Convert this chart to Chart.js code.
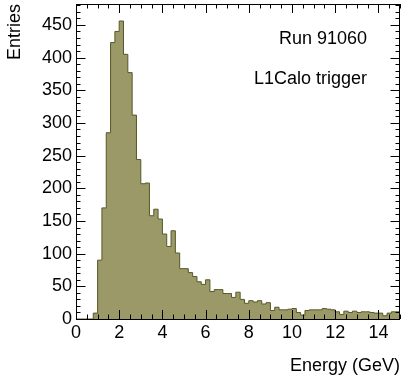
<!DOCTYPE html>
<html>
<head>
<meta charset="utf-8">
<script src="https://cdn.jsdelivr.net/npm/chart.js@4.4.1/dist/chart.umd.min.js"></script>
<style>
html,body{margin:0;padding:0;background:#fff;}
#wrap{width:401px;height:380px;}
</style>
</head>
<body>
<div id="wrap"><canvas id="c" width="401" height="380"></canvas></div>
<script>
// ---- data ----
const binLow = 0.0;        // GeV, first bin lower edge
const binWidth = 0.2;      // GeV
const entries = [
  0, 0, 0, 0, 9, 90, 170, 285, 423, 440,
  456, 405, 377, 312, 244, 207, 208, 158, 168, 153,
  130, 111, 135, 101, 77, 77, 71, 65, 57, 53,
  60, 42, 45, 45, 39, 39, 33, 41, 30, 24,
  28, 26, 28, 23, 25, 13, 18, 14, 14, 15,
  16, 10, 6, 13, 14, 14, 14, 16, 15, 14,
  11, 7, 12, 10, 12, 10, 11, 11, 10, 9,
  9, 5, 9, 11, 11
];
const xTickLabels = [0, 2, 4, 6, 8, 10, 12, 14];
const yTickLabels = [0, 50, 100, 150, 200, 250, 300, 350, 400, 450];
const annotations = ["Run 91060", "L1Calo trigger"];
const xTitle = "Energy (GeV)";
const yTitle = "Entries";

// histogram points (lower edges + final upper edge)
const points = entries.map((v, i) => ({x: +(binLow + i * binWidth).toFixed(4), y: v}));
points.push({x: +(binLow + entries.length * binWidth).toFixed(4), y: entries[entries.length - 1]});

const FONT = "'Liberation Sans', Arial, Helvetica, sans-serif";

const frameTicks = {
  id: 'frameTicks',
  afterDatasetsDraw(chart) {
    const {ctx, chartArea: a, scales: {x, y}} = chart;
    ctx.save();
    ctx.strokeStyle = '#000';
    ctx.lineWidth = 1;
    ctx.beginPath();
    for (let k = 0; k <= 30; k++) {
      const v = k * 0.5;
      const px = Math.round(x.getPixelForValue(v)) + 0.5;
      const len = (k % 4 === 0) ? 9 : 4.5;
      ctx.moveTo(px, a.bottom); ctx.lineTo(px, a.bottom - len);
      ctx.moveTo(px, a.top); ctx.lineTo(px, a.top + len);
    }
    for (let k = 0; k <= 48; k++) {
      const v = k * 10;
      const py = Math.round(y.getPixelForValue(v)) + 0.5;
      const len = (k % 5 === 0) ? 9.5 : 4.5;
      ctx.moveTo(a.left, py); ctx.lineTo(a.left + len, py);
      ctx.moveTo(a.right, py); ctx.lineTo(a.right - len, py);
    }
    ctx.stroke();
    ctx.strokeRect(Math.round(a.left) + 0.5, Math.round(a.top) + 0.5,
                   Math.round(a.right - a.left) - 1, Math.round(a.bottom - a.top));
    ctx.fillStyle = '#000';
    ctx.font = "18px " + FONT;
    ctx.textAlign = 'right';
    ctx.textBaseline = 'middle';
    ctx.fillText(annotations[0], a.right - 33, a.top + 35);
    ctx.fillText(annotations[1], a.right - 33, a.top + 75);
    ctx.restore();
  }
};

new Chart(document.getElementById('c'), {
  type: 'line',
  data: {
    datasets: [{
      data: points,
      stepped: 'before',
      fill: 'origin',
      backgroundColor: 'rgb(154,153,103)',
      borderColor: 'rgb(88,88,40)',
      borderWidth: 1,
      pointRadius: 0,
      tension: 0
    }]
  },
  options: {
    responsive: false,
    animation: false,
    devicePixelRatio: 1,
    layout: {padding: {top: 4, right: 1, bottom: 0, left: 0}},
    plugins: {legend: {display: false}, tooltip: {enabled: false}},
    scales: {
      x: {
        type: 'linear', min: 0, max: 15,
        grid: {display: false, drawTicks: false}, border: {display: false},
        ticks: {
          stepSize: 2, includeBounds: false, padding: 3,
          color: '#000', font: {family: FONT, size: 18},
          maxRotation: 0, autoSkip: false,
          callback: v => xTickLabels.includes(v) ? String(v) : ''
        },
        title: {display: true, text: xTitle, align: 'end', color: '#000',
                font: {family: FONT, size: 18}, padding: {top: 0, bottom: 3}},
        afterFit(s) { s.height = 61; s.paddingLeft = 0; s.paddingRight = 0; }
      },
      y: {
        type: 'linear', min: 0, max: 482,
        grid: {display: false, drawTicks: false}, border: {display: false},
        ticks: {
          stepSize: 50, includeBounds: false, padding: 4,
          color: '#000', font: {family: FONT, size: 18},
          callback: v => yTickLabels.includes(v) ? String(v) : ''
        },
        title: {display: true, text: yTitle, align: 'end', color: '#000',
                font: {family: FONT, size: 18}, padding: {top: 4, bottom: 0}},
        afterFit(s) { s.width = 76; s.paddingTop = 0; s.paddingBottom = 0; }
      }
    }
  },
  plugins: [frameTicks]
});
</script>
</body>
</html>
